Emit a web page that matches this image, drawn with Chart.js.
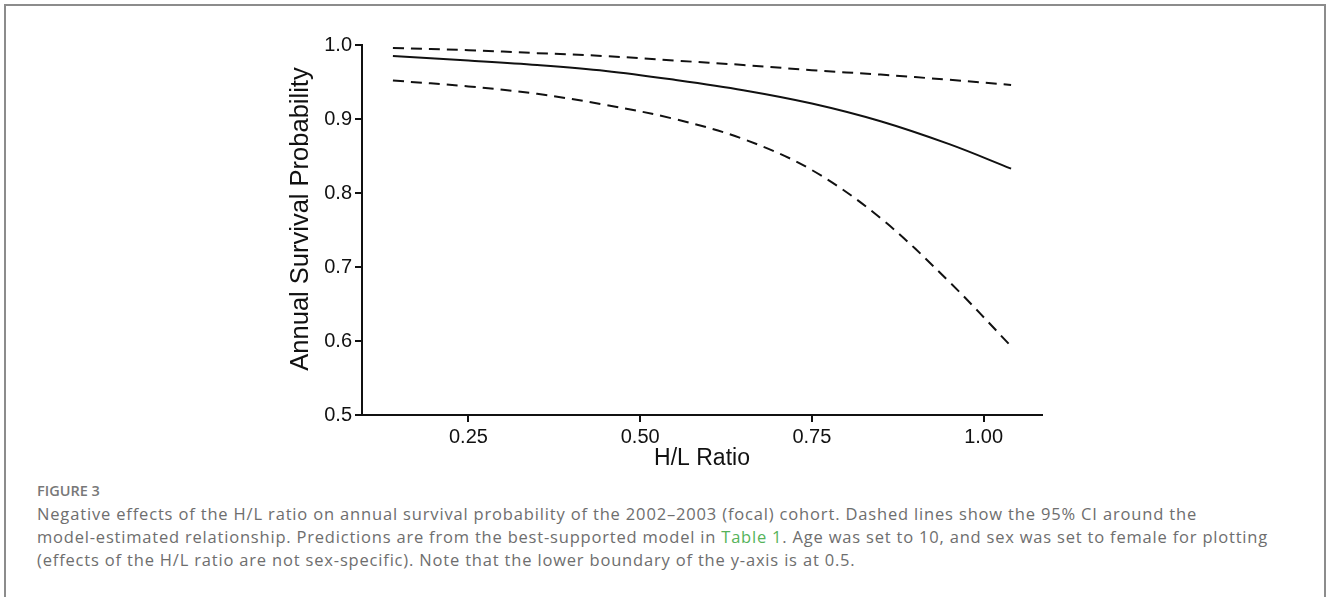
<!DOCTYPE html>
<html><head><meta charset="utf-8">
<script src="https://cdn.jsdelivr.net/npm/chart.js@4.4.1/dist/chart.umd.min.js"></script>
<style>
html,body{margin:0;padding:0;background:#fff;width:1328px;height:597px;overflow:hidden;}
#frame{position:absolute;left:4px;top:4px;width:1318px;height:700px;border:2px solid #8c8c8c;border-bottom:none;box-sizing:content-box;}
#c{position:absolute;left:0;top:0;}
.cap{position:absolute;left:37px;font-family:"Open Sans",sans-serif;color:#6e6e6e;white-space:nowrap;}
#fig{top:482px;font-size:14.5px;line-height:18px;font-weight:600;color:#787878;}
.ln{font-size:16.5px;line-height:23px;}
.green{color:#55b35a;}
</style></head>
<body>
<div id="frame"></div>
<canvas id="c" width="1328" height="480"></canvas>
<div class="cap" id="fig">FIGURE 3</div>
<div class="cap ln" id="l1" style="top:502px">Negative effects of the H/L ratio on annual survival probability of the 2002–2003 (focal) cohort. Dashed lines show the 95% CI around the</div>
<div class="cap ln" id="l2" style="top:525px">model-estimated relationship. Predictions are from the best-supported model in <span class="green">Table 1</span>. Age was set to 10, and sex was set to female for plotting</div>
<div class="cap ln" id="l3" style="top:548px">(effects of the H/L ratio are not sex-specific). Note that the lower boundary of the y-axis is at 0.5.</div>
<script>
const hlRatio = [0.14, 0.25, 0.35, 0.45, 0.55, 0.65, 0.75, 0.85, 0.95, 1.04];
const survivalEstimate = [0.985, 0.979, 0.973, 0.965, 0.953, 0.939, 0.921, 0.897, 0.866, 0.833];
const upperCI = [0.996, 0.993, 0.989, 0.985, 0.979, 0.973, 0.966, 0.960, 0.953, 0.946];
const lowerCI = [0.952, 0.944, 0.934, 0.919, 0.900, 0.873, 0.831, 0.766, 0.680, 0.593];
const xTickValues = [0.25, 0.50, 0.75, 1.00];
const yTickValues = [0.5, 0.6, 0.7, 0.8, 0.9, 1.0];
const xTitle = 'H/L Ratio';
const yTitle = 'Annual Survival Probability';

const AX = 'Liberation Sans, Arial, sans-serif';
const INK = '#111';
function series(ys){ return hlRatio.map((x,i)=>({x:x, y:ys[i]})); }
const lineBase = {borderColor:INK, borderWidth:2, pointRadius:0, tension:0.35, fill:false, borderCapStyle:'butt'};

const yTitlePlugin = {
  id:'yTitle',
  afterDraw(chart){
    const ctx = chart.ctx;
    ctx.save();
    ctx.translate(301, 219);
    ctx.rotate(-Math.PI/2);
    ctx.font = '25.5px ' + AX;
    ctx.fillStyle = INK;
    ctx.textAlign = 'center';
    ctx.textBaseline = 'middle';
    ctx.fillText(yTitle, 0, 0);
    ctx.restore();
  }
};

new Chart(document.getElementById('c').getContext('2d'), {
  type:'line',
  data:{datasets:[
    Object.assign({label:'Estimate', data:series(survivalEstimate)}, lineBase),
    Object.assign({label:'Upper 95% CI', data:series(upperCI), borderDash:[11,7]}, lineBase),
    Object.assign({label:'Lower 95% CI', data:series(lowerCI), borderDash:[11,7]}, lineBase)
  ]},
  plugins:[yTitlePlugin],
  options:{
    responsive:false, animation:false, events:[],
    layout:{padding:{left:262, right:286, top:45, bottom:5}},
    plugins:{legend:{display:false}, tooltip:{enabled:false}},
    scales:{
      x:{type:'linear', min:0.095, max:1.085,
        afterBuildTicks:s=>{ s.ticks = xTickValues.map(v=>({value:v})); },
        afterFit:s=>{ s.height = 60; },
        border:{display:true, color:INK, width:2},
        grid:{display:true, drawOnChartArea:false, drawTicks:true, tickLength:7, color:INK, lineWidth:2},
        ticks:{color:INK, font:{family:AX, size:20}, padding:3, maxRotation:0, autoSkip:false, callback:v=>Number(v).toFixed(2)},
        title:{display:true, text:xTitle, color:INK, font:{family:AX, size:23}, padding:{top:0, bottom:3}}
      },
      y:{type:'linear', min:0.5, max:1.0,
        afterBuildTicks:s=>{ s.ticks = yTickValues.map(v=>({value:v})); },
        afterFit:s=>{ s.width = 100; },
        border:{display:true, color:INK, width:2},
        grid:{display:true, drawOnChartArea:false, drawTicks:true, tickLength:7, color:INK, lineWidth:2},
        ticks:{color:INK, font:{family:AX, size:20}, padding:3, autoSkip:false, callback:v=>Number(v).toFixed(1)},
        title:{display:false}
      }
    }
  }
});

function fitCaption(){
  const targets = {l1:1160, l2:1231};
  let sum = 0, n = 0;
  for (const id in targets){
    const el = document.getElementById(id);
    el.style.letterSpacing = '0px';
    const w = el.getBoundingClientRect().width;
    const chars = el.textContent.length;
    const ls = (targets[id] - w) / chars;
    el.style.letterSpacing = ls + 'px';
    sum += ls; n++;
  }
  document.getElementById('l3').style.letterSpacing = (sum/n) + 'px';
}
if (document.fonts && document.fonts.ready) document.fonts.ready.then(fitCaption); else fitCaption();
</script>
</body></html>
